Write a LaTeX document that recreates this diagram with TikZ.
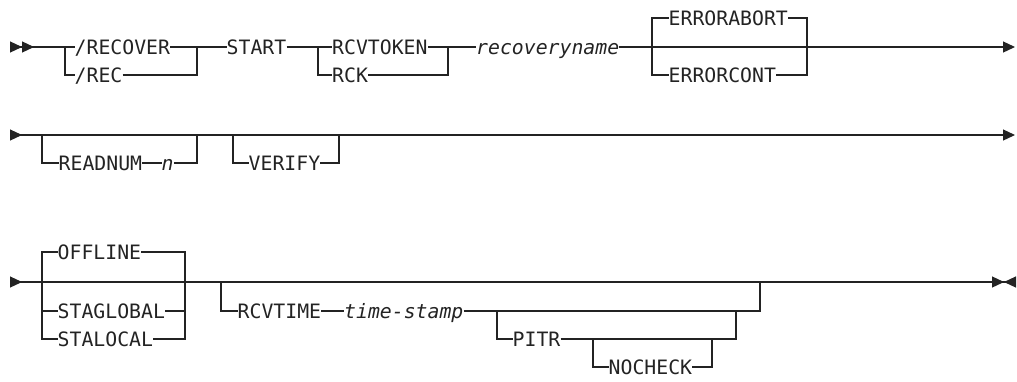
\documentclass[tikz,border=0pt]{standalone}
\usepackage{fontspec}
\setmonofont{DejaVu Sans Mono}
\usepackage{xcolor}
\usetikzlibrary{arrows.meta}
\definecolor{railgray}{RGB}{35,35,35}
\newcommand{\railfont}{\fontsize{19.8pt}{22pt}\selectfont\ttfamily}
\tikzset{
  rail/.style={draw=railgray, line width=1.2pt},
  kw/.style={font=\railfont, text=railgray, inner sep=0pt, anchor=west,
    text height=14.4pt, text depth=0pt},
  var/.style={kw, font=\railfont\itshape},
  railtip/.style={>={Triangle[length=12pt, width=11pt]}}
}

\begin{document}
\begin{tikzpicture}[x=1pt, y=-1pt, railtip]
\useasboundingbox (0,0) rectangle (1017,381);
% Row 1: /RECOVER START RCVTOKEN recoveryname ERRORABORT
\coordinate (s1) at (10,47);
\coordinate (e1) at (1015,47);
\coordinate (j1a) at (65,47);
\coordinate (j1b) at (197,47);
\coordinate (j2a) at (318,47);
\coordinate (j2b) at (448,47);
\coordinate (j3a) at (652,47);
\coordinate (j3b) at (807,47);
\node[kw] (recover) at (74.5,47) {/RECOVER};
\node[kw] (rec) at (74.5,75) {/REC};
\node[kw] (start) at (226.5,47) {START};
\node[kw] (rcvtoken) at (332,47) {RCVTOKEN};
\node[kw] (rck) at (332,75) {RCK};
\node[var] (recname) at (476,47) {recoveryname};
\node[kw] (errabort) at (668.5,18) {ERRORABORT};
\node[kw] (errcont) at (668.5,75) {ERRORCONT};
\draw[rail, >>-] (s1) -- (j1a) -- (recover.west);
\draw[rail] (recover.east) -- (j1b) -- (start.west);
\draw[rail] (start.east) -- (j2a) -- (rcvtoken.west);
\draw[rail] (rcvtoken.east) -- (j2b) -- (recname.west);
\draw[rail, ->] (recname.east) -- (e1);
\draw[rail] (j1a) |- (rec.west);
\draw[rail] (rec.east) -| (j1b);
\draw[rail] (j2a) |- (rck.west);
\draw[rail] (rck.east) -| (j2b);
\draw[rail] (errabort.west) -| (j3a) |- (errcont.west);
\draw[rail] (errabort.east) -| (j3b) |- (errcont.east);
% Row 2: READNUM n, VERIFY
\coordinate (s2) at (10,135);
\coordinate (e2) at (1015,135);
\coordinate (j4a) at (42,135);
\coordinate (j4b) at (197,135);
\coordinate (j5a) at (233,135);
\coordinate (j5b) at (339,135);
\node[kw] (readnum) at (58.5,163) {READNUM};
\node[var] (num) at (161.5,163) {n};
\node[kw] (verify) at (248.5,163) {VERIFY};
\draw[rail, >->] (s2) -- (e2);
\draw[rail] (j4a) |- (readnum.west);
\draw[rail] (readnum.east) -- (num.west);
\draw[rail] (num.east) -| (j4b);
\draw[rail] (j5a) |- (verify.west);
\draw[rail] (verify.east) -| (j5b);
% Row 3: OFFLINE, RCVTIME time-stamp PITR NOCHECK
\coordinate (s3) at (10,282);
\coordinate (e3) at (1016,282);
\coordinate (j6a) at (42,282);
\coordinate (j6b) at (185,282);
\coordinate (j7a) at (221,282);
\coordinate (j7b) at (760,282);
\coordinate (j8a) at (497,311);
\coordinate (j8b) at (736,311);
\coordinate (j9a) at (593,339);
\coordinate (j9b) at (712,339);
\node[kw] (offline) at (57.5,252) {OFFLINE};
\node[kw] (staglobal) at (57.5,311) {STAGLOBAL};
\node[kw] (stalocal) at (57.5,339) {STALOCAL};
\node[kw] (rcvtime) at (237.5,311) {RCVTIME};
\node[var] (tstamp) at (344,311) {time-stamp};
\node[kw] (pitr) at (512.5,339) {PITR};
\node[kw] (nocheck) at (608.5,367) {NOCHECK};
\draw[rail, >-><] (s3) -- (e3);
\draw[rail] (offline.west) -| (j6a) |- (stalocal.west);
\draw[rail] (j6a) |- (staglobal.west);
\draw[rail] (offline.east) -| (j6b) |- (stalocal.east);
\draw[rail] (staglobal.east) -| (j6b);
\draw[rail] (j7a) |- (rcvtime.west);
\draw[rail] (rcvtime.east) -- (tstamp.west);
\draw[rail] (tstamp.east) -| (j7b);
\draw[rail] (j8a) |- (pitr.west);
\draw[rail] (pitr.east) -| (j8b);
\draw[rail] (j9a) |- (nocheck.west);
\draw[rail] (nocheck.east) -| (j9b);
\end{tikzpicture}
\end{document}
